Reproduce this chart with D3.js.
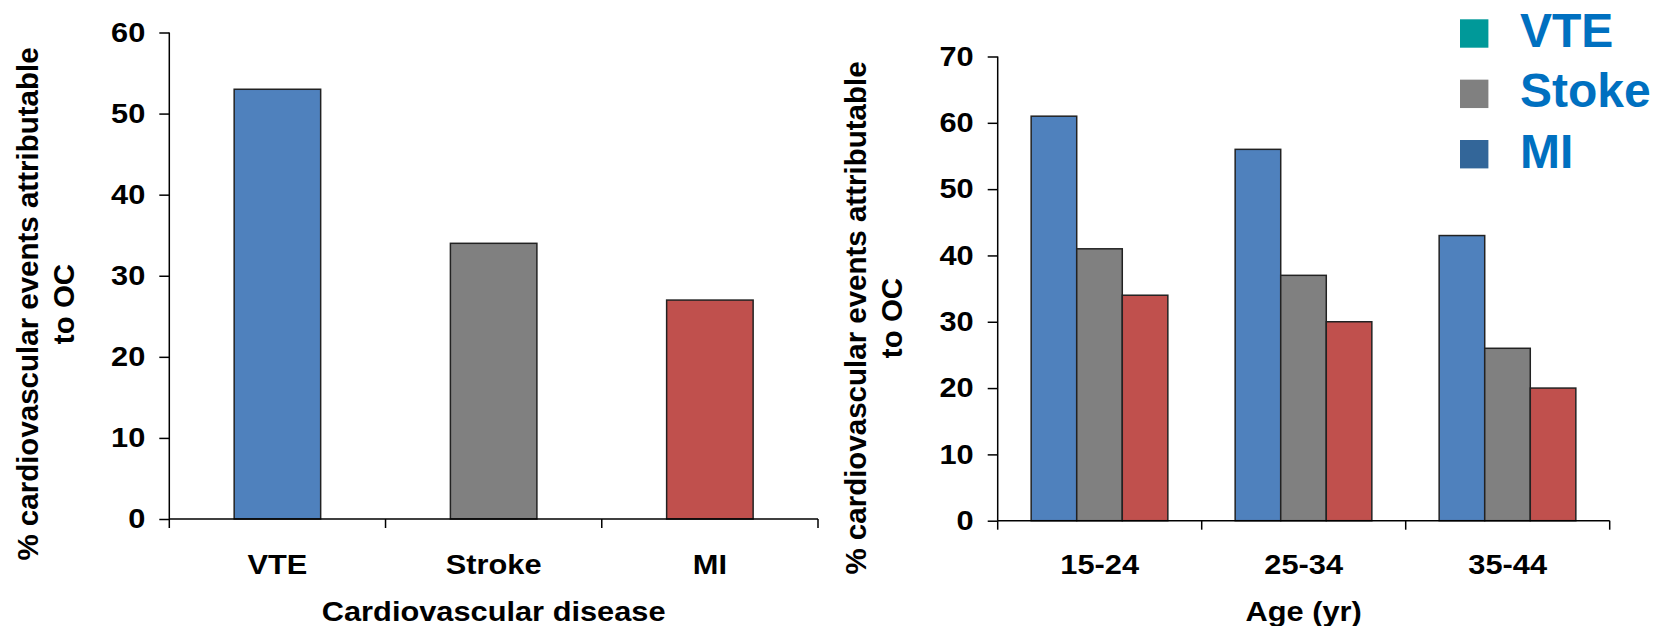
<!DOCTYPE html>
<html>
<head>
<meta charset="utf-8">
<script src="https://cdn.jsdelivr.net/npm/d3@7"></script>
<style>
  body { margin: 0; background: #fff; }
  svg { display: block; font-family: "Liberation Sans", Arial, sans-serif; font-weight: bold; }
</style>
</head>
<body>
<svg id="chart" width="1658" height="626"></svg>
<script>
// left chart: by disease
const diseases = ["VTE", "Stroke", "MI"];
const diseaseValues = [53, 34, 27];
const leftTicks = [0, 10, 20, 30, 40, 50, 60];

// right chart: by age group
const ageGroups = ["15-24", "25-34", "35-44"];
const seriesNames = ["VTE", "Stroke", "MI"];
const vteByAge = [61, 56, 43];
const strokeByAge = [41, 37, 26];
const miByAge = [34, 30, 20];
const rightTicks = [0, 10, 20, 30, 40, 50, 60, 70];

// legend (as on the slide)
const legendLabels = ["VTE", "Stoke", "MI"];
const legendColors = ["#009999", "#808080", "#336699"];

const barColors = ["#4F81BD", "#808080", "#C0504D"];
const sx = 1.14; // the slide text is a bit wider than Arial
const fs = 27;

const svg = d3.select("#chart");

function drawAxes(g, x, y, ticks, yMax) {
  const yAxis = d3.axisLeft(y).tickValues(ticks).tickSize(10).tickSizeOuter(0);
  const ga = g.append("g").attr("transform", `translate(${x.range()[0]},0)`).call(yAxis);
  ga.select(".domain").remove();
  ga.selectAll(".tick line").attr("stroke", "#000").attr("stroke-width", 1.5);
  ga.selectAll(".tick text")
    .attr("x", -24 / sx)
    .attr("transform", `scale(${sx},1)`)
    .attr("font-size", fs)
    .attr("fill", "#000");
  // y axis line
  g.append("line")
    .attr("x1", x.range()[0]).attr("x2", x.range()[0])
    .attr("y1", y(0)).attr("y2", y(yMax))
    .attr("stroke", "#000").attr("stroke-width", 1.5);
  // x axis line + boundary ticks
  g.append("line")
    .attr("x1", x.range()[0]).attr("x2", x.range()[1])
    .attr("y1", y(0)).attr("y2", y(0))
    .attr("stroke", "#000").attr("stroke-width", 1.5);
  const bounds = x.domain().map(d => x(d)).concat([x.range()[1]]);
  g.selectAll(".xtick").data(bounds).join("line")
    .attr("x1", d => d).attr("x2", d => d)
    .attr("y1", y(0)).attr("y2", y(0) + 9)
    .attr("stroke", "#000").attr("stroke-width", 1.5);
  // category labels
  g.selectAll(".cat").data(x.domain()).join("text")
    .attr("transform", d => `translate(${x(d) + x.bandwidth() / 2},574) scale(${sx},1)`)
    .attr("text-anchor", "middle")
    .attr("font-size", fs)
    .text(d => d);
}

function yLabel(g, cx, cy) {
  const t = g.append("text")
    .attr("transform", `translate(${cx},${cy}) rotate(-90)`)
    .attr("text-anchor", "middle")
    .attr("font-size", 29.5);
  t.append("tspan").attr("x", 0).attr("y", 0).text("% cardiovascular events attributable");
  t.append("tspan").attr("x", 0).attr("y", 36).text("to OC");
}

function xTitle(g, x, label) {
  g.append("text")
    .attr("transform", `translate(${(x.range()[0] + x.range()[1]) / 2},621) scale(${sx},1)`)
    .attr("text-anchor", "middle")
    .attr("font-size", fs)
    .text(label);
}

// ---- left chart
const gl = svg.append("g");
const xl = d3.scaleBand().domain(diseases).range([169.3, 818]);
const yl = d3.scaleLinear().domain([0, 60]).range([519, 32.5]);

gl.selectAll(".bar").data(diseases).join("rect")
  .attr("x", d => xl(d) + xl.bandwidth() * 0.3)
  .attr("width", xl.bandwidth() * 0.4)
  .attr("y", (d, i) => yl(diseaseValues[i]))
  .attr("height", (d, i) => yl(0) - yl(diseaseValues[i]))
  .attr("fill", (d, i) => barColors[i])
  .attr("stroke", "#222").attr("stroke-width", 1.5);

drawAxes(gl, xl, yl, leftTicks, 60);
yLabel(gl, 37.5, 304);
xTitle(gl, xl, "Cardiovascular disease");

// ---- right chart
const gr = svg.append("g");
const xr = d3.scaleBand().domain(ageGroups).range([997.7, 1609.7]);
const yr = d3.scaleLinear().domain([0, 70]).range([520.7, 56.5]);
const xs = d3.scaleBand().domain(seriesNames)
  .range([xr.bandwidth() * 0.164, xr.bandwidth() * 0.834]);
const series = [vteByAge, strokeByAge, miByAge];

ageGroups.forEach((a, gi) => {
  gr.selectAll(".b" + gi).data(seriesNames).join("rect")
    .attr("x", d => xr(a) + xs(d))
    .attr("width", xs.bandwidth())
    .attr("y", (d, si) => yr(series[si][gi]))
    .attr("height", (d, si) => yr(0) - yr(series[si][gi]))
    .attr("fill", (d, si) => barColors[si])
    .attr("stroke", "#222").attr("stroke-width", 1.5);
});

drawAxes(gr, xr, yr, rightTicks, 70);
yLabel(gr, 865.5, 318);
xTitle(gr, xr, "Age (yr)");

// ---- legend
const leg = svg.append("g");
const ly = d3.scalePoint().domain(legendLabels).range([19.3, 140]);
leg.selectAll("rect").data(legendLabels).join("rect")
  .attr("x", 1460).attr("y", d => ly(d))
  .attr("width", 28.4).attr("height", 28.4)
  .attr("fill", (d, i) => legendColors[i]);
leg.selectAll("text").data(legendLabels).join("text")
  .attr("x", 1520).attr("y", d => ly(d) + 27.5)
  .attr("font-size", 48)
  .attr("fill", "#0070C0")
  .text(d => d);
</script>
</body>
</html>
